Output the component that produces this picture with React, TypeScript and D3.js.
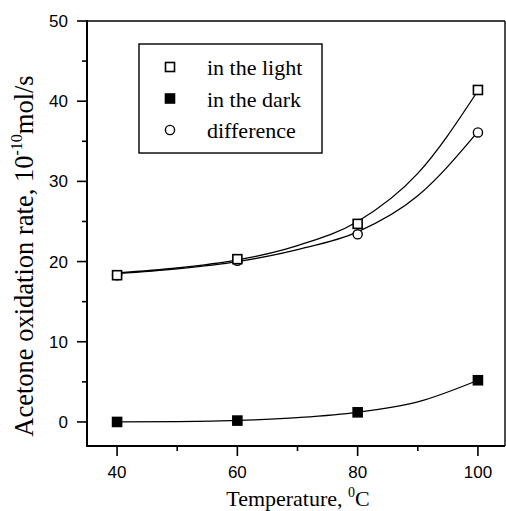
import React from "react";
import * as d3 from "d3";

// Temperatures (°C) at which the oxidation rate was measured
const temperatures = [40, 60, 80, 100];
// Acetone oxidation rate, 10^-10 mol/s
const inLight = [18.3, 20.3, 24.7, 41.4];
const inDark = [0.0, 0.17, 1.2, 5.2];
const difference = [18.3, 20.1, 23.4, 36.1];

// Smooth growth curves fitted through each series, sampled every 10 °C
const fitTemperatures = [40, 50, 60, 70, 80, 90, 100];
const fitLight = [18.6, 19.2, 20.2, 22.0, 25.0, 31.0, 41.3];
const fitDifference = [18.5, 19.1, 20.0, 21.5, 23.7, 28.2, 36.2];
const fitDark = [0.0, 0.05, 0.2, 0.55, 1.2, 2.5, 5.2];

const xTicks = [40, 60, 80, 100];
const xMinorTicks = [50, 70, 90];
const yTicks = [0, 10, 20, 30, 40, 50];
const yMinorTicks = [5, 15, 25, 35, 45];

const legendLabels = ["in the light", "in the dark", "difference"];

const W = 506;
const H = 511;
const margin = { left: 87, right: 1, top: 21, bottom: 65 };

export default function App() {
  const x = d3.scaleLinear().domain([35, 104.5]).range([margin.left, W - margin.right]);
  const y = d3.scaleLinear().domain([-3, 50]).range([H - margin.bottom, margin.top]);

  const line = d3
    .line<[number, number]>()
    .x((d) => x(d[0]))
    .y((d) => y(d[1]))
    .curve(d3.curveMonotoneX);

  const pts = (vals: number[]) =>
    fitTemperatures.map((t, i) => [t, vals[i]] as [number, number]);

  const x0 = x.range()[0];
  const x1 = x.range()[1];
  const yb = y.range()[0];
  const yt = y.range()[1];

  const sq = 9;
  const serif = "'Liberation Serif', 'Times New Roman', serif";
  const sans = "'Liberation Sans', Arial, sans-serif";

  const square = (cx: number, cy: number, filled: boolean, key: string) => (
    <rect
      key={key}
      x={cx - sq / 2}
      y={cy - sq / 2}
      width={sq}
      height={sq}
      fill={filled ? "#000" : "#fff"}
      stroke="#000"
      strokeWidth={1.6}
    />
  );
  const circle = (cx: number, cy: number, key: string) => (
    <circle key={key} cx={cx} cy={cy} r={4.6} fill="#fff" stroke="#000" strokeWidth={1.4} />
  );

  const legendX = 139;
  const legendY = 44;
  const legendW = 183;
  const legendH = 109;
  const rowY = [67, 98.5, 130];

  return (
    <svg
      width={W}
      height={H}
      style={{ position: "absolute", left: 0, top: 0, background: "#fff" }}
    >
      <rect x={0} y={0} width={W} height={H} fill="#fff" />

      {/* frame */}
      <line x1={x0} x2={x1} y1={yt} y2={yt} stroke="#000" strokeWidth={1.6} />
      <line x1={x1} x2={x1} y1={yt} y2={yb} stroke="#000" strokeWidth={1.4} />
      <line x1={x0} x2={x0} y1={yt - 0.8} y2={yb + 1} stroke="#000" strokeWidth={2} />
      <line x1={x0 - 1} x2={x1} y1={yb} y2={yb} stroke="#000" strokeWidth={2} />

      {/* y axis ticks */}
      {yTicks.map((v) => (
        <g key={"yt" + v}>
          <line x1={x0 - 10} x2={x0} y1={y(v)} y2={y(v)} stroke="#000" strokeWidth={1.6} />
          <text
            x={x0 - 19}
            y={y(v)}
            dy="0.36em"
            textAnchor="end"
            fontFamily={sans}
            fontSize={17}
          >
            {v}
          </text>
        </g>
      ))}
      {yMinorTicks.map((v) => (
        <line key={"ym" + v} x1={x0 - 5} x2={x0} y1={y(v)} y2={y(v)} stroke="#000" strokeWidth={1.6} />
      ))}

      {/* x axis ticks */}
      {xTicks.map((v) => (
        <g key={"xt" + v}>
          <line x1={x(v)} x2={x(v)} y1={yb} y2={yb + 10} stroke="#000" strokeWidth={1.6} />
          <text x={x(v)} y={yb + 32} textAnchor="middle" fontFamily={sans} fontSize={17}>
            {v}
          </text>
        </g>
      ))}
      {xMinorTicks.map((v) => (
        <line key={"xm" + v} x1={x(v)} x2={x(v)} y1={yb} y2={yb + 5} stroke="#000" strokeWidth={1.6} />
      ))}

      {/* axis titles */}
      <text x={298} y={506} textAnchor="middle" fontFamily={serif} fontSize={22}>
        Temperature,{" "}
        <tspan fontSize={14} dy={-9}>
          0
        </tspan>
        <tspan dy={9}>C</tspan>
      </text>
      <text
        transform="translate(33,256) rotate(-90)"
        textAnchor="middle"
        fontFamily={serif}
        fontSize={26.5}
      >
        Acetone oxidation rate, 10
        <tspan fontSize={16} dy={-11}>
          -10
        </tspan>
        <tspan dy={11}>mol/s</tspan>
      </text>

      {/* fitted curves */}
      <path d={line(pts(fitLight)) ?? ""} fill="none" stroke="#000" strokeWidth={1.3} />
      <path d={line(pts(fitDifference)) ?? ""} fill="none" stroke="#000" strokeWidth={1.3} />
      <path d={line(pts(fitDark)) ?? ""} fill="none" stroke="#000" strokeWidth={1.3} />

      {/* markers */}
      {temperatures.map((t, i) => circle(x(t), y(difference[i]), "c" + t))}
      {temperatures.map((t, i) => square(x(t), y(inLight[i]), false, "l" + t))}
      {temperatures.map((t, i) => square(x(t), y(inDark[i]), true, "d" + t))}

      {/* legend */}
      <rect
        x={legendX}
        y={legendY}
        width={legendW}
        height={legendH}
        fill="#fff"
        stroke="#000"
        strokeWidth={1.4}
      />
      {square(170, rowY[0], false, "lg0")}
      {square(170, rowY[1], true, "lg1")}
      {circle(170, rowY[2], "lg2")}
      {legendLabels.map((label, i) => (
        <text key={label} x={207} y={rowY[i] + 8} fontFamily={serif} fontSize={22}>
          {label}
        </text>
      ))}
    </svg>
  );
}
